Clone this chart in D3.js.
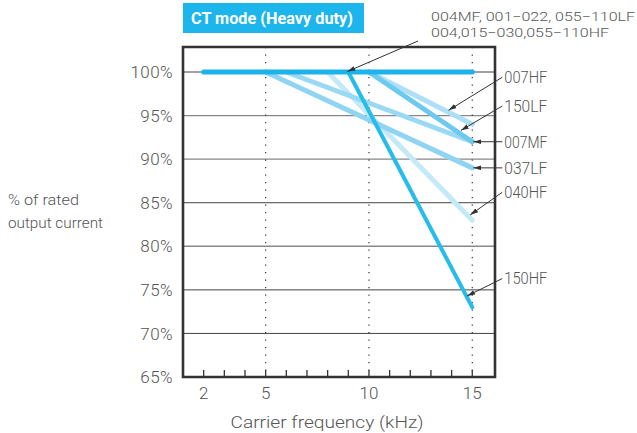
<!DOCTYPE html>
<html>
<head>
<meta charset="utf-8">
<script src="https://cdn.jsdelivr.net/npm/d3@7"></script>
<style>
  html, body { margin: 0; padding: 0; background: #fff; }
  svg { display: block; }
  text { font-family: Roboto, "Liberation Sans", sans-serif; }
</style>
</head>
<body>
<div id="chart"></div>
<script>
// Carrier frequency (kHz) vs. % of rated output current, CT mode
const xTicks = [2, 5, 10, 15];
const xMinorTicks = [2, 3, 4, 5, 6, 7, 8, 9, 10, 11, 12, 13, 14, 15];
const yTicks = [65, 70, 75, 80, 85, 90, 95, 100];

// derating curves: [kHz, %]
const baseModels = [[2, 100], [15, 100]];
const hf007 = [[10, 100], [15, 94]];
const lf150 = [[10, 100], [15, 92]];
const mf007 = [[6, 100], [15, 92]];
const lf037 = [[5, 100], [15, 89]];
const hf040 = [[8, 100], [15, 83]];
const hf150 = [[9, 100], [15, 73]];

// arrow callouts: label, label anchor [kHz, %], arrow tip [kHz, %]
const callouts = [
  { label: "007HF", at: [16.55, 99.4], tip: [13.85, 95.6] },
  { label: "150LF", at: [16.55, 96.1], tip: [14.45, 93.3] },
  { label: "007MF", at: [16.55, 92.0], tip: [15.05, 92.0] },
  { label: "037LF", at: [16.55, 89.0], tip: [15.05, 89.0] },
  { label: "040HF", at: [16.55, 86.2], tip: [14.9, 83.6] },
  { label: "150HF", at: [16.55, 76.3], tip: [14.75, 74.3] }
];
const topNote = ["004MF, 001\u2212022, 055\u2212110LF", "004,015\u2212030,055\u2212110HF"];
const topNoteTip = [8.95, 100.05];

const W = 637, H = 433;
const frame = { left: 183, right: 495, top: 47, bottom: 377 };

const x = d3.scaleLinear().domain([1, 16.1]).range([frame.left, frame.right]);
const y = d3.scaleLinear().domain([65, 102.87]).range([frame.bottom, frame.top]);

const svg = d3.select("#chart").append("svg")
  .attr("width", W).attr("height", H);

const defs = svg.append("defs");
defs.append("marker")
  .attr("id", "arrow")
  .attr("viewBox", "0 0 10 6")
  .attr("refX", 10).attr("refY", 3)
  .attr("markerWidth", 8).attr("markerHeight", 5)
  .attr("markerUnits", "userSpaceOnUse")
  .attr("orient", "auto")
  .append("path").attr("d", "M0,0 L10,3 L0,6 Z").attr("fill", "#333");

// horizontal grid
const gridTone = { 100: "#444", 95: "#888", 90: "#888", 85: "#444", 80: "#888", 75: "#444", 70: "#444" };
svg.append("g").selectAll("line")
  .data(yTicks.filter(v => v > 65))
  .join("line")
  .attr("x1", frame.left).attr("x2", frame.right)
  .attr("y1", d => y(d)).attr("y2", d => y(d))
  .attr("stroke", d => gridTone[d])
  .attr("stroke-width", d => gridTone[d] === "#888" ? 1.4 : 1);

// dotted verticals
svg.append("g").selectAll("line")
  .data(xTicks.filter(v => v >= 5))
  .join("line")
  .attr("x1", d => x(d)).attr("x2", d => x(d))
  .attr("y1", frame.top).attr("y2", frame.bottom)
  .attr("stroke", "#333").attr("stroke-width", 1.2)
  .attr("stroke-dasharray", "1.2,6.3");

// minor ticks on the bottom edge
svg.append("g").selectAll("line")
  .data(xMinorTicks)
  .join("line")
  .attr("x1", d => x(d)).attr("x2", d => x(d))
  .attr("y1", frame.bottom).attr("y2", frame.bottom - 7)
  .attr("stroke", "#333").attr("stroke-width", 1.3);

// curves
const line = d3.line().x(d => x(d[0])).y(d => y(d[1]));
const curves = [
  { data: hf040, color: "#c4e9f9", width: 5 },
  { data: lf037, color: "#8fd5f3", width: 5 },
  { data: mf007, color: "#9ad9f4", width: 5 },
  { data: hf007, color: "#abe0f6", width: 5 },
  { data: lf150, color: "#6ccaf0", width: 5 },
  { data: hf150, color: "#27bdea", width: 4 },
  { data: baseModels, color: "#1bb3ea", width: 5 }
];
svg.append("g").selectAll("path")
  .data(curves)
  .join("path")
  .attr("d", d => line(d.data))
  .attr("fill", "none")
  .attr("stroke", d => d.color)
  .attr("stroke-width", d => d.width)
  .attr("stroke-linecap", "round");

// frame
svg.append("path")
  .attr("d", `M${frame.left},${frame.top} H${frame.right} V${frame.bottom} H${frame.left} Z`)
  .attr("fill", "none").attr("stroke", "#333").attr("stroke-width", 2.6);

// y tick labels
svg.append("g").selectAll("text")
  .data(yTicks)
  .join("text")
  .attr("x", 173).attr("y", d => y(d))
  .attr("dy", "0.36em")
  .attr("text-anchor", "end")
  .attr("font-size", 17).attr("font-weight", 300)
  .attr("fill", "#555")
  .attr("letter-spacing", 0.4)
  .text(d => d + "%");

// x tick labels
svg.append("g").selectAll("text")
  .data(xTicks)
  .join("text")
  .attr("x", d => x(d)).attr("y", 399)
  .attr("text-anchor", "middle")
  .attr("font-size", 17).attr("font-weight", 300)
  .attr("fill", "#555")
  .text(d => d);

// axis titles
svg.append("text")
  .attr("x", 327).attr("y", 428)
  .attr("text-anchor", "middle")
  .attr("font-size", 17).attr("font-weight", 300)
  .attr("fill", "#555")
  .attr("textLength", 193).attr("lengthAdjust", "spacingAndGlyphs")
  .text("Carrier frequency (kHz)");

const yTitle = svg.append("text")
  .attr("font-size", 14.5).attr("font-weight", 300).attr("fill", "#555");
yTitle.append("tspan").attr("x", 8).attr("y", 205)
  .attr("textLength", 71).attr("lengthAdjust", "spacingAndGlyphs").text("% of rated");
yTitle.append("tspan").attr("x", 8).attr("y", 228)
  .attr("textLength", 95).attr("lengthAdjust", "spacingAndGlyphs").text("output current");

// heading box
svg.append("rect")
  .attr("x", 183).attr("y", 3).attr("width", 181).attr("height", 30)
  .attr("fill", "#1cb5ec");
svg.append("text")
  .attr("x", 191).attr("y", 24)
  .attr("font-size", 16.5).attr("font-weight", 700)
  .attr("fill", "#fff")
  .attr("textLength", 162).attr("lengthAdjust", "spacingAndGlyphs")
  .text("CT mode (Heavy duty)");

// top note with arrow
const noteG = svg.append("g");
noteG.selectAll("text")
  .data(topNote)
  .join("text")
  .attr("x", 431).attr("y", (d, i) => 21 + i * 16)
  .attr("font-size", 13.5).attr("font-weight", 300)
  .attr("fill", "#555")
  .attr("textLength", (d, i) => i === 0 ? 204 : 178)
  .attr("lengthAdjust", "spacingAndGlyphs")
  .text(d => d);
noteG.append("line")
  .attr("x1", 418).attr("y1", 41)
  .attr("x2", x(topNoteTip[0])).attr("y2", y(topNoteTip[1]))
  .attr("stroke", "#333").attr("stroke-width", 1)
  .attr("marker-end", "url(#arrow)");

// right-side callouts
const cg = svg.append("g").selectAll("g").data(callouts).join("g");
cg.append("line")
  .attr("x1", d => x(d.at[0]) - 2).attr("y1", d => y(d.at[1]))
  .attr("x2", d => x(d.tip[0])).attr("y2", d => y(d.tip[1]))
  .attr("stroke", "#333").attr("stroke-width", 1)
  .attr("marker-end", "url(#arrow)");
cg.append("text")
  .attr("x", d => x(d.at[0]))
  .attr("y", d => y(d.at[1]))
  .attr("dy", "0.36em")
  .attr("font-size", 16.5).attr("font-weight", 300)
  .attr("fill", "#555")
  .attr("textLength", 43).attr("lengthAdjust", "spacingAndGlyphs")
  .text(d => d.label);
</script>
</body>
</html>
